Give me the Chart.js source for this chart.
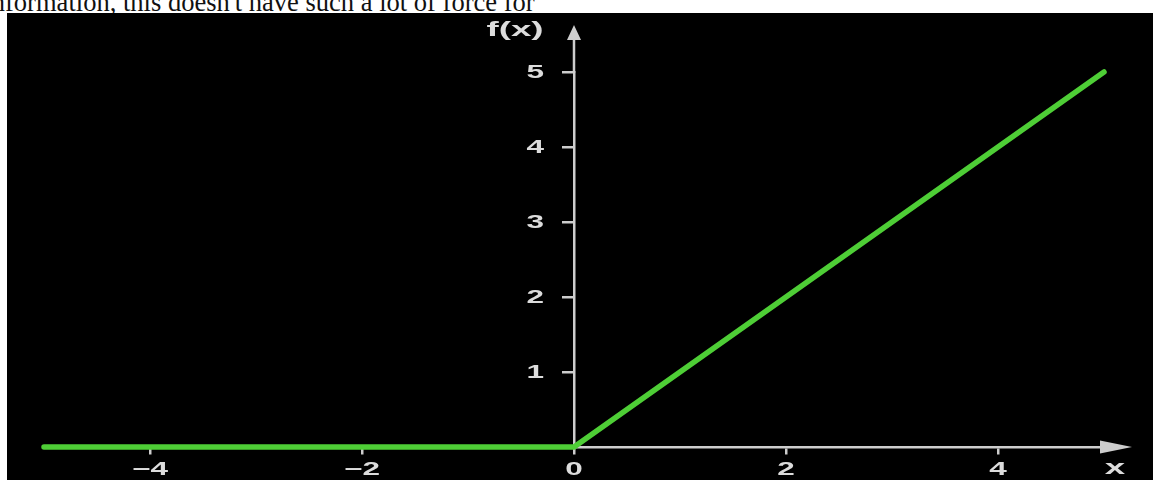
<!DOCTYPE html>
<html>
<head>
<meta charset="utf-8">
<script src="https://cdn.jsdelivr.net/npm/chart.js@4/dist/chart.umd.min.js"></script>
<style>
  html, body { margin: 0; padding: 0; background: #fff; width: 1153px; height: 480px; overflow: hidden; }
  #topText { position: absolute; left: 0; top: 0; }
  #c { position: absolute; left: 7px; top: 13px; background: #000; }
</style>
</head>
<body>
<svg id="topText" width="1153" height="13"><text id="tt" x="0" y="11" fill="#111" font-family="Liberation Serif, Times New Roman, serif" font-size="23"></text></svg>
<canvas id="c" width="1146" height="467"></canvas>
<script>
// ---- data ----
const topCaption = "information, this doesn't have such a lot of force for";
const xValues = [-5, 0, 5];
const yValues = [0, 0, 5];
const xTicks = [-4, -2, 0, 2, 4];
const yTicks = [1, 2, 3, 4, 5];
const xRange = [-5, 5];
const yRange = [0, 5];
const yAxisTitle = "f(x)";
const xAxisTitle = "x";

// ---- top caption (cut off text above the figure) ----
(function () {
  const m = document.createElement('canvas').getContext('2d');
  m.font = '100px "Liberation Serif"';
  const wFull = m.measureText(topCaption).width;
  const wIn = m.measureText('in').width;
  const s = 530 * 100 / (wFull - wIn);
  const t = document.getElementById('tt');
  t.setAttribute('font-size', s.toFixed(2));
  t.setAttribute('x', (5 - wIn * s / 100).toFixed(2));
  t.textContent = topCaption;
})();

// ---- styles ----
const AXIS = '#cdcdcd';
const LABEL = '#dcdcdc';
const GREEN = 'rgb(78, 206, 54)';
const STRETCH = 1.75;

function stretchedText(ctx, text, x, y, align, font) {
  ctx.save();
  ctx.translate(x, y);
  ctx.scale(STRETCH, 1);
  ctx.font = font;
  ctx.textAlign = align;
  ctx.textBaseline = 'middle';
  ctx.fillText(text, 0, 0);
  ctx.restore();
}

const fmt = v => (v < 0 ? '\u2212' + Math.abs(v) : String(v));

const decor = {
  id: 'decor',
  afterDraw(chart) {
    const { ctx, scales: { x, y } } = chart;
    const x0 = x.getPixelForValue(0);
    const y0 = y.getPixelForValue(0);
    const top = y.getPixelForValue(yRange[1]);
    const right = x.getPixelForValue(xRange[1]);
    ctx.save();
    ctx.strokeStyle = AXIS;
    ctx.fillStyle = AXIS;
    ctx.lineWidth = 2.5;
    // y axis extension up to the arrow
    ctx.beginPath();
    ctx.moveTo(x0, top + 1);
    ctx.lineTo(x0, top - 34);
    ctx.stroke();
    // y arrow head
    ctx.beginPath();
    ctx.moveTo(x0, top - 47);
    ctx.lineTo(x0 - 7, top - 32);
    ctx.lineTo(x0 + 7, top - 32);
    ctx.closePath();
    ctx.fill();
    // x arrow head
    ctx.beginPath();
    ctx.moveTo(right + 28, y0);
    ctx.lineTo(right - 4, y0 - 6.5);
    ctx.lineTo(right - 4, y0 + 6.5);
    ctx.closePath();
    ctx.fill();

    ctx.fillStyle = LABEL;
    const tickFont = 'bold 18px "Liberation Sans", Arial, sans-serif';
    x.ticks.forEach(t => {
      stretchedText(ctx, fmt(t.value), x.getPixelForValue(t.value), y0 + 23, 'center', tickFont);
    });
    y.ticks.forEach(t => {
      stretchedText(ctx, fmt(t.value), x0 - 30, y.getPixelForValue(t.value) + 1, 'right', tickFont);
    });
    const titleFont = 'bold 21px "Liberation Sans", Arial, sans-serif';
    stretchedText(ctx, yAxisTitle, x0 - 59, top - 42, 'center', titleFont);
    stretchedText(ctx, xAxisTitle, right + 11, y0 + 21, 'center', titleFont);
    ctx.restore();
  }
};

new Chart(document.getElementById('c'), {
  type: 'line',
  data: {
    datasets: [{
      data: xValues.map((v, i) => ({ x: v, y: yValues[i] })),
      borderColor: GREEN,
      borderWidth: 5.5,
      borderCapStyle: 'round',
      borderJoinStyle: 'round',
      pointRadius: 0,
      tension: 0,
      fill: false,
      clip: false
    }]
  },
  options: {
    responsive: false,
    devicePixelRatio: 1,
    animation: false,
    events: [],
    layout: { padding: { left: 37, right: 49, top: 59, bottom: 33 } },
    plugins: { legend: { display: false }, tooltip: { enabled: false }, title: { display: false } },
    scales: {
      x: {
        type: 'linear',
        min: xRange[0], max: xRange[1],
        position: { y: 0 },
        afterBuildTicks: s => { s.ticks = xTicks.map(v => ({ value: v })); },
        grid: { display: true, drawOnChartArea: false, drawTicks: true, tickLength: 6, color: AXIS, lineWidth: 2.5 },
        border: { display: true, color: AXIS, width: 2.5 },
        ticks: { display: false }
      },
      y: {
        type: 'linear',
        min: yRange[0], max: yRange[1],
        position: { x: 0 },
        afterBuildTicks: s => { s.ticks = yTicks.map(v => ({ value: v })); },
        grid: { display: true, drawOnChartArea: false, drawTicks: true, tickLength: 11, color: AXIS, lineWidth: 2.5 },
        border: { display: true, color: AXIS, width: 2.5 },
        ticks: { display: false }
      }
    }
  },
  plugins: [decor]
});
</script>
</body>
</html>
